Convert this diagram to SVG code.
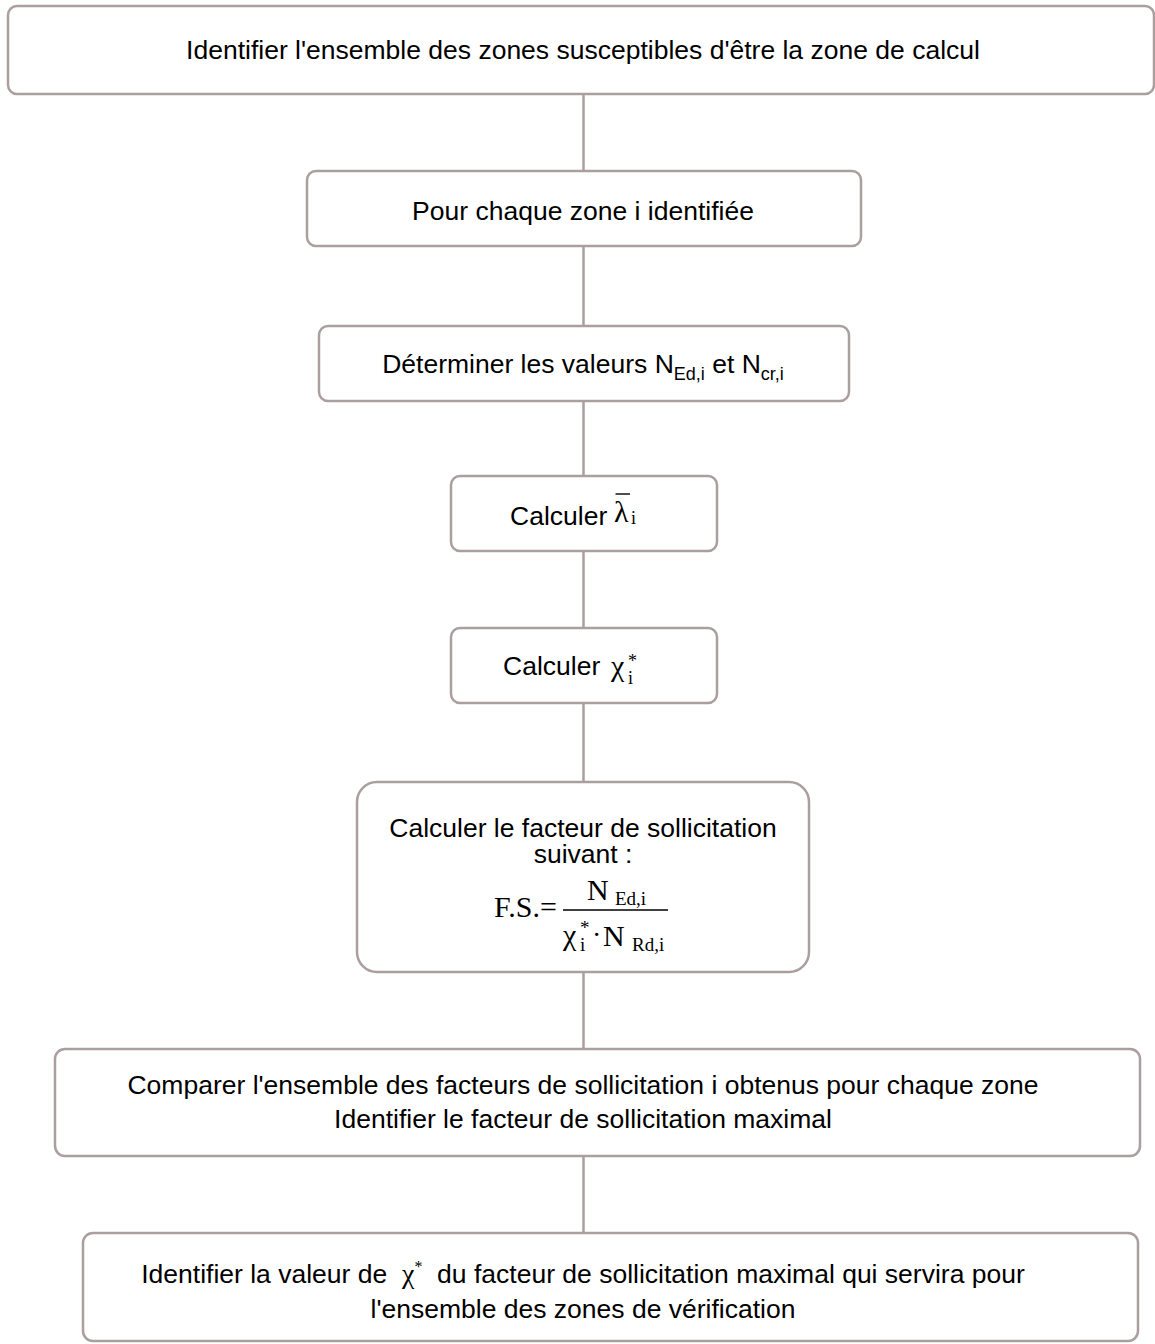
<svg xmlns="http://www.w3.org/2000/svg" width="1155" height="1344" viewBox="0 0 1155 1344">
<style>
.box{fill:#ffffff;stroke:#aa9e9e;stroke-width:2.5}
.con{stroke:#aa9e9e;stroke-width:2.5;fill:none}
.t{font-family:"Liberation Sans",Arial,sans-serif;font-size:26.5px;fill:#000}
.c{text-anchor:middle}
.m{font-family:"Liberation Serif","Times New Roman",serif;fill:#000}
.fl{stroke:#000;stroke-width:1.4}
</style>
<rect width="1155" height="1344" fill="#ffffff"/>
<g id="connectors">
<line class="con" x1="583.5" y1="94" x2="583.5" y2="171"/>
<line class="con" x1="583.5" y1="246" x2="583.5" y2="326"/>
<line class="con" x1="583.5" y1="401" x2="583.5" y2="476"/>
<line class="con" x1="583.5" y1="551" x2="583.5" y2="628"/>
<line class="con" x1="583.5" y1="703" x2="583.5" y2="782"/>
<line class="con" x1="583.5" y1="972" x2="583.5" y2="1049"/>
<line class="con" x1="583.5" y1="1156" x2="583.5" y2="1233"/>
</g>
<g id="n1">
<rect class="box" x="8" y="6" width="1146" height="88" rx="9"/>
<text class="t c" x="583" y="59">Identifier l'ensemble des zones susceptibles d'être la zone de calcul</text>
</g>
<g id="n2">
<rect class="box" x="307" y="171" width="554" height="75" rx="9"/>
<text class="t c" x="583" y="220">Pour chaque zone i identifiée</text>
</g>
<g id="n3">
<rect class="box" x="319" y="326" width="530" height="75" rx="9"/>
<text class="t c" x="583" y="373">Déterminer les valeurs N<tspan dy="7" font-size="18">Ed,i</tspan><tspan dy="-7"> et N</tspan><tspan dy="7" font-size="18">cr,i</tspan></text>
</g>
<g id="n4">
<rect class="box" x="451" y="476" width="266" height="75" rx="9"/>
<text class="t" x="510" y="525">Calculer<tspan class="m" x="614" y="522" font-size="30">λ</tspan><tspan class="m" x="631" y="524" font-size="18">i</tspan></text>
<line x1="615.5" y1="494" x2="630" y2="494" stroke="#000" stroke-width="1.4"/>
</g>
<g id="n5">
<rect class="box" x="451" y="628" width="266" height="75" rx="9"/>
<text class="t" x="503" y="675">Calculer<tspan class="m" x="611" y="676" font-size="30">χ</tspan><tspan class="m" x="628" y="667" font-size="18">*</tspan><tspan class="m" x="628" y="684" font-size="18">i</tspan></text>
</g>
<g id="n6">
<rect class="box" x="357" y="782" width="452" height="190" rx="20"/>
<text class="t c"><tspan x="583" y="837">Calculer le facteur de sollicitation</tspan><tspan x="583" y="863">suivant :</tspan></text>
<text class="m" font-size="30"><tspan x="494" y="917">F.S.=</tspan><tspan x="587" y="900">N</tspan><tspan x="615" y="905" font-size="19">Ed,i</tspan><tspan x="563" y="945">χ</tspan><tspan x="580" y="934" font-size="19">*</tspan><tspan x="580" y="951" font-size="19">i</tspan><tspan x="592" y="944" font-size="28">·</tspan><tspan x="603" y="946">N</tspan><tspan x="632" y="951" font-size="19">Rd,i</tspan></text>
<line class="fl" x1="563" y1="910" x2="668" y2="910"/>
</g>
<g id="n7">
<rect class="box" x="55" y="1049" width="1085" height="107" rx="10"/>
<text class="t c"><tspan x="583" y="1094">Comparer l'ensemble des facteurs de sollicitation i obtenus pour chaque zone</tspan><tspan x="583" y="1128">Identifier le facteur de sollicitation maximal</tspan></text>
</g>
<g id="n8">
<rect class="box" x="83" y="1233" width="1055" height="108" rx="10"/>
<text class="t c" x="583" y="1283">Identifier la valeur de &#160;<tspan class="m" font-size="28">χ</tspan><tspan class="m" font-size="16" dy="-11">*</tspan><tspan dy="11">&#160; du facteur de sollicitation maximal qui servira pour</tspan></text>
<text class="t c" x="583" y="1318">l'ensemble des zones de vérification</text>
</g>
</svg>
